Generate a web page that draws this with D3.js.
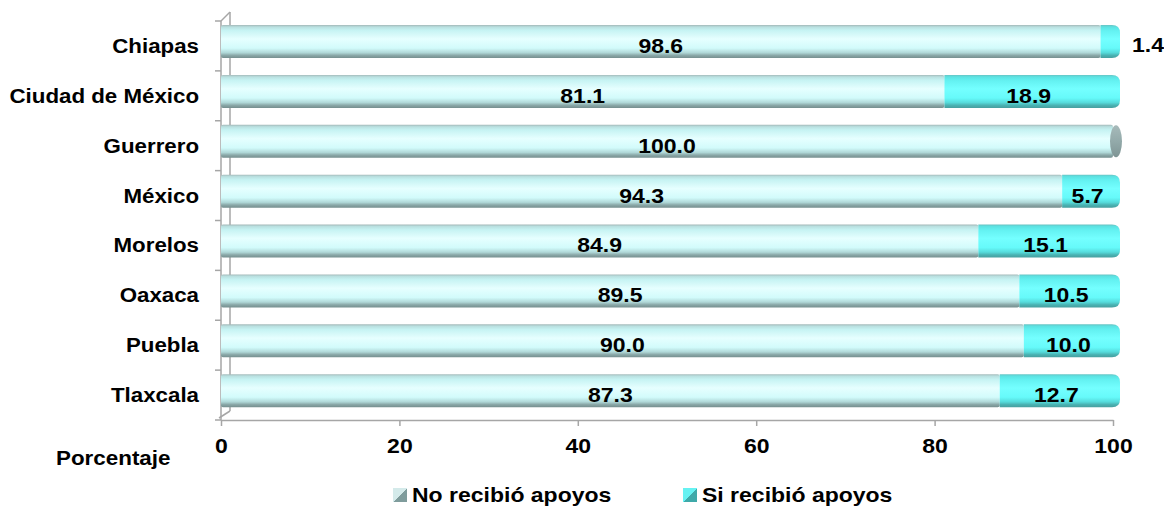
<!DOCTYPE html>
<html>
<head>
<meta charset="utf-8">
<script src="https://cdn.jsdelivr.net/npm/d3@7"></script>
<style>
  html, body { margin: 0; padding: 0; background: #fff; }
  svg { display: block; font-family: "Liberation Sans", Arial, sans-serif; font-weight: bold; }
</style>
</head>
<body>
<svg id="chart" width="1164" height="506"></svg>
<script>
// data
var categories = ['Chiapas', 'Ciudad de México', 'Guerrero', 'México', 'Morelos', 'Oaxaca', 'Puebla', 'Tlaxcala'];
var noRecibio = [98.6, 81.1, 100.0, 94.3, 84.9, 89.5, 90.0, 87.3];
var siRecibio = [1.4, 18.9, 0, 5.7, 15.1, 10.5, 10.0, 12.7];
var xTicks = [0, 20, 40, 60, 80, 100];
var seriesNames = ['No recibió apoyos', 'Si recibió apoyos'];

var SX = 1.15; // text in the picture is a bit wider than plain Arial
var svg = d3.select('#chart');
var x = d3.scaleLinear().domain([0, 100]).range([221, 1113]);
var y = d3.scaleBand().domain(categories).range([21, 420]).padding(0);
var depth = 9;

function place(sel, px, py, sx) {
    return sel.attr('transform', 'translate(' + px + ',' + py + ') scale(' + (sx || SX) + ',1)');
}

// gradients for the cylinders
var defs = svg.append('defs');
function cylGrad(id, stops) {
    var g = defs.append('linearGradient').attr('id', id)
        .attr('x1', 0).attr('y1', 0).attr('x2', 0).attr('y2', 1);
    stops.forEach(function (s) {
        g.append('stop').attr('offset', s[0]).attr('stop-color', s[1]);
    });
}
cylGrad('gNo', [[0, '#a3b8b8'], [0.06, '#b9e0e0'], [0.16, '#c6f3f3'], [0.42, '#e6ffff'], [0.7, '#d2fbfb'], [0.84, '#b0d8d8'], [0.92, '#8aa8a8'], [1, '#768f8f']]);
cylGrad('gSi', [[0, '#68c2c2'], [0.06, '#5ce2e2'], [0.18, '#64f2f2'], [0.42, '#74ffff'], [0.7, '#66fafa'], [0.84, '#55dbdb'], [0.92, '#49b3b3'], [1, '#479f9f']]);
cylGrad('gCap', [[0, '#a7baba'], [0.5, '#93aaaa'], [1, '#7f9595']]);

function iconGrad(id, light, dark) {
    var g = defs.append('linearGradient').attr('id', id)
        .attr('x1', 0).attr('y1', 0).attr('x2', 1).attr('y2', 1);
    g.append('stop').attr('offset', 0).attr('stop-color', light);
    g.append('stop').attr('offset', 0.5).attr('stop-color', light);
    g.append('stop').attr('offset', 0.5).attr('stop-color', dark);
    g.append('stop').attr('offset', 1).attr('stop-color', dark);
}
iconGrad('iNo', '#d4eaea', '#7f9c9c');
iconGrad('iSi', '#66f2f2', '#3fa9a9');

// 3d frame: back wall line, side diagonals, front axis
var frame = svg.append('g').attr('stroke', '#a6a6a6').attr('stroke-width', 1.5).attr('fill', 'none');
frame.append('line').attr('x1', x(0) + depth).attr('x2', x(0) + depth).attr('y1', 21 - depth).attr('y2', 420 - depth);
frame.append('line').attr('x1', x(0)).attr('x2', x(0) + depth).attr('y1', 21).attr('y2', 21 - depth);
frame.append('line').attr('x1', x(0) - 2).attr('x2', x(0) + depth).attr('y1', 418).attr('y2', 420 - depth);
frame.append('line').attr('x1', x(0)).attr('x2', x(0)).attr('y1', 21).attr('y2', 420);
var bounds = categories.map(function (c) { return y(c); }).concat([420]);
frame.selectAll('.ytick').data(bounds).enter().append('line')
    .attr('x1', x(0) - 6).attr('x2', x(0)).attr('y1', function (d) { return d; }).attr('y2', function (d) { return d; });

// bars
var barTop = 4, barH = 33, capR = 8;
var rows = svg.append('g').selectAll('g.row').data(categories).enter().append('g').attr('class', 'row');

rows.each(function (c, i) {
    var g = d3.select(this);
    var t = y(c) + barTop;
    var a = noRecibio[i], b = siRecibio[i];
    var right = x(a + b);
    if (b > 0) {
        g.append('rect').attr('x', x(0)).attr('y', t).attr('width', x(a) - x(0)).attr('height', barH)
            .attr('rx', 2).attr('fill', 'url(#gNo)');
        // second segment with rounded end
        var x0 = x(a), x1 = right + 7;
        var p = d3.path();
        p.moveTo(x0, t);
        p.lineTo(x1 - capR, t);
        p.quadraticCurveTo(x1, t, x1, t + capR);
        p.lineTo(x1, t + barH - capR);
        p.quadraticCurveTo(x1, t + barH, x1 - capR, t + barH);
        p.lineTo(x0, t + barH);
        p.closePath();
        g.append('path').attr('d', p.toString()).attr('fill', 'url(#gSi)');
    } else {
        g.append('rect').attr('x', x(0)).attr('y', t).attr('width', right - x(0)).attr('height', barH)
            .attr('rx', 2).attr('fill', 'url(#gNo)');
        g.append('ellipse').attr('cx', right + 3).attr('cy', t + barH / 2)
            .attr('rx', 6).attr('ry', barH / 2 - 0.5).attr('fill', 'url(#gCap)');
    }

    // value labels
    place(g.append('text').attr('text-anchor', 'middle').attr('font-size', 20).attr('fill', '#000')
        .text(a.toFixed(1)), x(a / 2), y(c) + y.bandwidth() / 2 + 7);
    if (b > 0) {
        if (b < 4) {
            place(g.append('text').attr('text-anchor', 'start').attr('font-size', 20)
                .text(b.toFixed(1)), x(100) + 19, y(c) + y.bandwidth() / 2 + 6);
        } else {
            place(g.append('text').attr('text-anchor', 'middle').attr('font-size', 20)
                .text(b.toFixed(1)), x(a + b / 2), y(c) + y.bandwidth() / 2 + 7);
        }
    }
});

// category labels
svg.append('g').selectAll('text').data(categories).enter().append('text')
    .attr('text-anchor', 'end').attr('font-size', 20)
    .text(function (d) { return d; })
    .each(function (d) { place(d3.select(this), 199, y(d) + y.bandwidth() / 2 + 7, 1.115); });

// bottom axis
var xAxis = d3.axisBottom(x).tickValues(xTicks).tickSize(6).tickSizeOuter(0).tickFormat(d3.format('d'));
var ax = svg.append('g').attr('transform', 'translate(0,420)').call(xAxis);
ax.select('.domain').attr('stroke', '#a6a6a6').attr('stroke-width', 1.5);
ax.selectAll('.tick line').attr('stroke', '#a6a6a6').attr('stroke-width', 1.5);
ax.selectAll('.tick text')
    .attr('y', null).attr('dy', null)
    .attr('font-size', 20).attr('font-weight', 'bold').attr('fill', '#000')
    .attr('font-family', '"Liberation Sans", Arial, sans-serif')
    .attr('transform', 'translate(0,33) scale(' + SX + ',1)');

// axis title
place(svg.append('text').attr('font-size', 20).text('Porcentaje'), 56, 465, 1.12);

// legend
var legend = svg.append('g');
var legendX = [393, 683];
var iconIds = ['iNo', 'iSi'];
seriesNames.forEach(function (name, i) {
    legend.append('rect').attr('x', legendX[i]).attr('y', 488).attr('width', 14).attr('height', 14)
        .attr('fill', 'url(#' + iconIds[i] + ')');
    place(legend.append('text').attr('font-size', 20).text(name), legendX[i] + 19, 502);
});
</script>
</body>
</html>
